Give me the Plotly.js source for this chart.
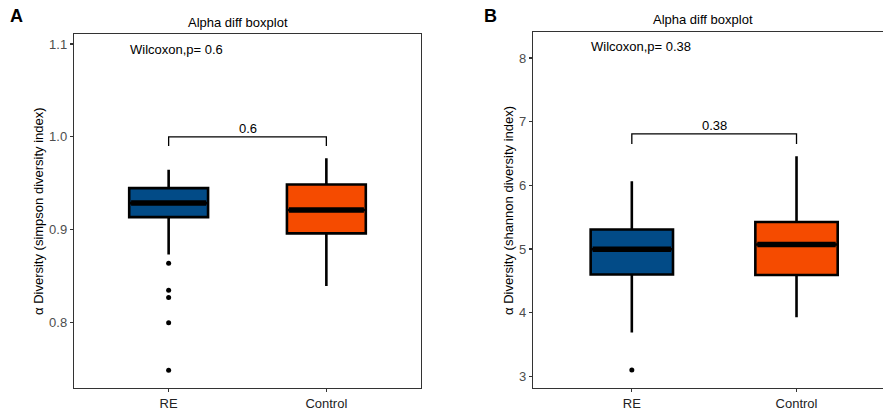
<!DOCTYPE html>
<html>
<head>
<meta charset="utf-8">
<script src="https://cdn.plot.ly/plotly-3.0.1.min.js"></script>
<style>html,body{margin:0;padding:0;overflow:hidden;background:#fff;}#chart{width:883px;height:413px;}</style>
</head>
<body>
<div id="chart"></div>
<script>
// ---- data ----
const groups = ["RE", "Control"];
const groupPos = [0, 1];
const fillColors = ["#024B87", "#F54B00"];

// Panel A: simpson
const simpsonQ1 = [0.9135, 0.8960];
const simpsonMedian = [0.9286, 0.9211];
const simpsonQ3 = [0.9447, 0.9487];
const simpsonLower = [0.8731, 0.8394];
const simpsonUpper = [0.9645, 0.9770];
const simpsonOutliersRE = [0.8638, 0.8347, 0.8269, 0.7996, 0.7486];
const simpsonP = "0.6";
const simpsonBracket = [1.0, 0.99];

// Panel B: shannon
const shannonQ1 = [4.598, 4.592];
const shannonMedian = [4.995, 5.069];
const shannonQ3 = [5.305, 5.424];
const shannonLower = [3.688, 3.928];
const shannonUpper = [6.063, 6.455];
const shannonOutliersRE = [3.099];
const shannonP = "0.38";
const shannonBracket = [6.807, 6.65];

const yTicksA = [0.8, 0.9, 1.0, 1.1];
const yTicksB = [3, 4, 5, 6, 7, 8];

// ---- build ----
const FONT = "Liberation Sans, Arial, sans-serif";
const FS = 13;
const BOXW = 0.5;
const traces = [];

function addPanel(xa, ya, q1, med, q3, lo, hi, outliers) {
  for (let i = 0; i < groups.length; i++) {
    traces.push({
      type: "box", xaxis: xa, yaxis: ya,
      x: [groupPos[i]],
      q1: [q1[i]], median: [med[i]], q3: [q3[i]],
      lowerfence: [lo[i]], upperfence: [hi[i]],
      width: BOXW, whiskerwidth: 0,
      fillcolor: fillColors[i],
      line: {color: "#000", width: 2.6},
      boxpoints: false, showlegend: false, hoverinfo: "skip"
    });
    traces.push({
      type: "scatter", mode: "lines", xaxis: xa, yaxis: ya,
      x: [groupPos[i] - BOXW / 2 + 0.012, groupPos[i] + BOXW / 2 - 0.012],
      y: [med[i], med[i]],
      line: {color: "#000", width: 5.5},
      showlegend: false, hoverinfo: "skip"
    });
  }
  traces.push({
    type: "scatter", mode: "markers", xaxis: xa, yaxis: ya,
    x: outliers.map(() => groupPos[0]), y: outliers,
    marker: {color: "#000", size: 5},
    showlegend: false, hoverinfo: "skip"
  });
}
function addBracket(xa, ya, br) {
  traces.push({
    type: "scatter", mode: "lines", xaxis: xa, yaxis: ya,
    x: [groupPos[0], groupPos[0], groupPos[1], groupPos[1]],
    y: [br[1], br[0], br[0], br[1]],
    line: {color: "#000", width: 1.3},
    showlegend: false, hoverinfo: "skip"
  });
}

addPanel("x", "y", simpsonQ1, simpsonMedian, simpsonQ3, simpsonLower, simpsonUpper, simpsonOutliersRE);
addBracket("x", "y", simpsonBracket);
addPanel("x2", "y2", shannonQ1, shannonMedian, shannonQ3, shannonLower, shannonUpper, shannonOutliersRE);
addBracket("x2", "y2", shannonBracket);

const W = 883, H = 413;
const axisCommon = {
  showgrid: false, zeroline: false, showline: true, linecolor: "#333", linewidth: 1.2,
  ticks: "outside", ticklen: 3, tickwidth: 1.1, tickcolor: "#333",
  tickfont: {family: FONT, size: FS, color: "#4D4D4D"}, automargin: false
};

function ann(o) {
  return Object.assign({showarrow: false, xanchor: "center", yanchor: "middle",
    font: {family: FONT, size: FS, color: "#000"}}, o);
}

const layout = {
  width: W, height: H,
  margin: {l: 0, r: 0, t: 0, b: 0},
  paper_bgcolor: "#fff", plot_bgcolor: "#fff",
  font: {family: FONT, size: FS, color: "#000"},
  showlegend: false,
  xaxis: Object.assign({}, axisCommon, {
    domain: [74 / W, 421 / W], anchor: "y", range: [-0.6, 1.6], mirror: true,
    tickvals: groupPos, ticktext: groups, tickfont: {family: FONT, size: FS, color: "#222"}
  }),
  yaxis: Object.assign({}, axisCommon, {
    domain: [1 - 388 / H, 1 - 34 / H], anchor: "x", range: [0.7294, 1.1108], mirror: true,
    tickvals: yTicksA, tickformat: ".1f"
  }),
  xaxis2: Object.assign({}, axisCommon, {
    domain: [533 / W, 1], anchor: "y2", range: [-0.6, -0.6 + (W - 533) / 164.7], mirror: true,
    tickvals: groupPos, ticktext: groups, tickfont: {family: FONT, size: FS, color: "#222"}
  }),
  yaxis2: Object.assign({}, axisCommon, {
    domain: [1 - 388 / H, 1 - 32 / H], anchor: "x2", range: [2.816, 8.408], mirror: false,
    tickvals: yTicksB
  }),
  annotations: [
    ann({text: "<b>A</b>", xref: "paper", yref: "paper", x: 16 / W, y: 1 - 16 / H,
     font: {family: FONT, size: 18, color: "#000"}}),
    ann({text: "<b>B</b>", xref: "paper", yref: "paper", x: 490 / W, y: 1 - 16 / H,
     font: {family: FONT, size: 18, color: "#000"}}),
    ann({text: "Alpha diff boxplot", xref: "paper", yref: "paper", x: 238 / W, y: 1 - 22 / H}),
    ann({text: "Alpha diff boxplot", xref: "paper", yref: "paper", x: 703 / W, y: 1 - 19 / H}),
    ann({text: "α Diversity (simpson diversity index)", xref: "paper", yref: "paper", x: 38 / W, y: 1 - 211 / H,
     textangle: -90}),
    ann({text: "α Diversity (shannon diversity index)", xref: "paper", yref: "paper", x: 508 / W, y: 1 - 210 / H,
     textangle: -90}),
    ann({text: "Wilcoxon,p= " + simpsonP, xref: "x", yref: "y", x: -0.255, y: 1.0946, xanchor: "left"}),
    ann({text: "Wilcoxon,p= " + shannonP, xref: "x2", yref: "y2", x: -0.263, y: 8.173, xanchor: "left"}),
    ann({text: simpsonP, xref: "x", yref: "y", x: 0.5, y: simpsonBracket[0], yanchor: "bottom", yshift: -1}),
    ann({text: shannonP, xref: "x2", yref: "y2", x: 0.5, y: shannonBracket[0], yanchor: "bottom", yshift: -1})
  ]
};

Plotly.newPlot("chart", traces, layout, {displayModeBar: false, staticPlot: true});
</script>
</body>
</html>
